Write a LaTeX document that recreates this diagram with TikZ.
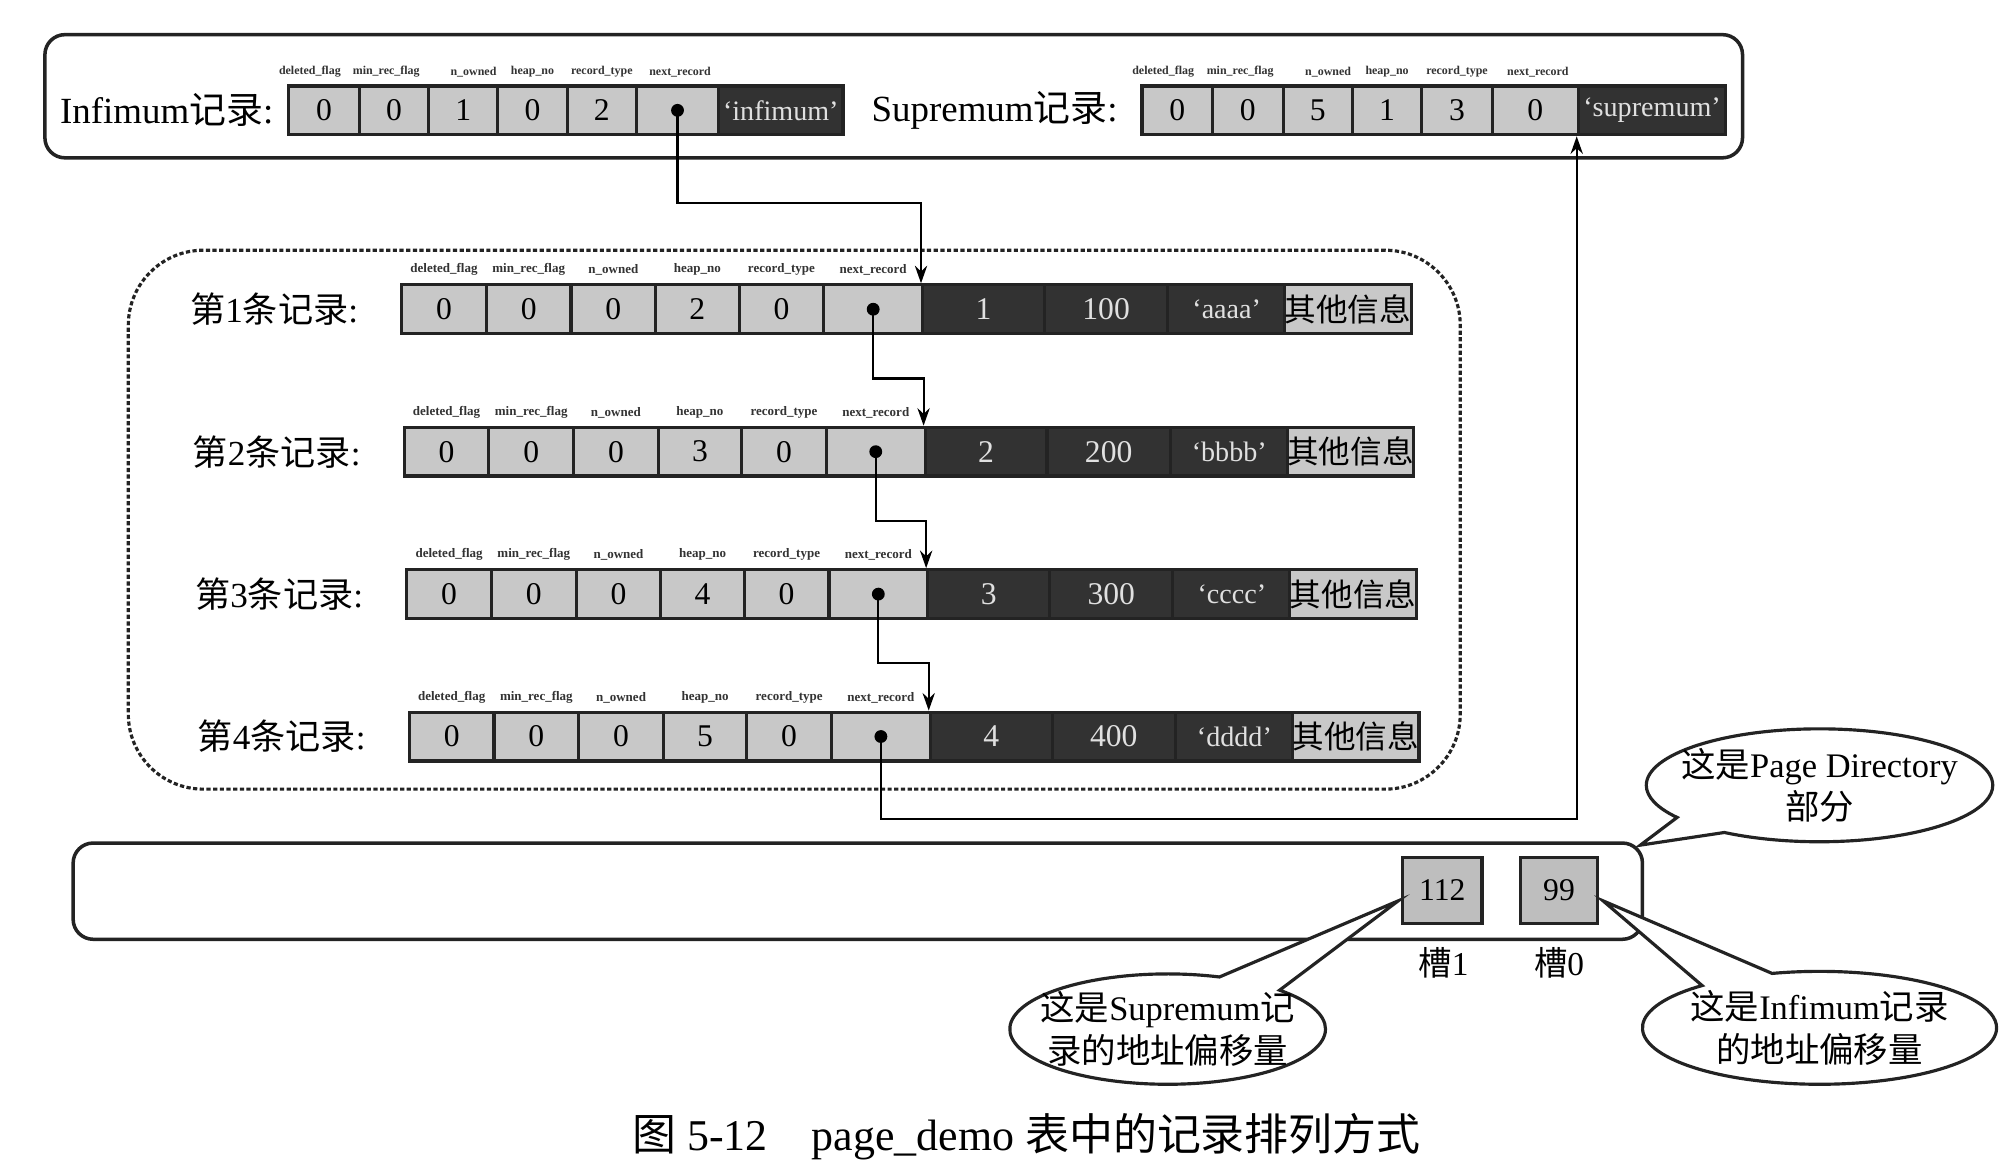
\documentclass[tikz,border=0pt]{standalone}
\usepackage{fontspec}
\setmainfont{Liberation Serif}
\newfontfamily\cjk{Noto Sans CJK SC}
\usetikzlibrary{shapes.callouts,arrows.meta,calc}
\definecolor{cellgray}{RGB}{200,200,200}
\definecolor{slotgray}{RGB}{190,190,190}
\definecolor{darkcell}{RGB}{50,50,50}
\definecolor{linecol}{RGB}{35,35,35}
\def\uu{0.012832cm}
\newcommand\cellat[6]{\node[#5, minimum width={((#3)-(#2))*\uu}] (#1) at ({((#2)+(#3))/2},#4) {#6};}
\begin{document}
\begin{tikzpicture}[x=\uu, y=-\uu, line width=0.7pt,
  cell/.style={draw=linecol, line width=0.9pt, fill=cellgray, minimum height=38*\uu, inner sep=0pt, font=\fontsize{9}{11}\selectfont},
  dcell/.style={cell, fill=darkcell, text=white!88!black},
  qcell/.style={dcell, font=\fontsize{8}{10}\selectfont},
  tinylbl/.style={font=\fontsize{3.7}{4}\selectfont\bfseries, inner sep=0pt, anchor=south, text=black!80},
  toplbl/.style={font=\fontsize{3.4}{4}\selectfont\bfseries, inner sep=0pt, anchor=south, text=black!80},
  lbl/.style={font=\fontsize{10}{12}\selectfont, inner sep=0pt, anchor=east},
  biglbl/.style={font=\fontsize{10.5}{12}\selectfont, inner sep=0pt, anchor=east},
  dotnode/.style={circle, fill=black, inner sep=0pt, minimum size=10*\uu},
  arr/.style={-{Stealth[length=5pt,width=3.5pt]}, line width=0.6pt},
  bubble/.style={ellipse callout, draw=linecol, line width=0.9pt, fill=white, inner sep=0pt},
  bubtext/.style={align=center, font=\fontsize{9.8}{12.2}\selectfont, inner sep=0pt}
]
\useasboundingbox (0,0) rectangle (1568,907);
\fill[white] (0,0) rectangle (1568,907);

% ---------- top box ----------
\node[draw=linecol, line width=1pt, rounded corners=0.2cm, minimum width=1323*\uu, minimum height=96*\uu] (topbox) at (696.5,75) {};
\node[biglbl] (inflbl) at (214,86) {Infimum{\cjk 记录}:};
\cellat{i1}{225}{280}{86}{cell}{0}
\cellat{i2}{280}{334}{86}{cell}{0}
\cellat{i3}{334}{388}{86}{cell}{1}
\cellat{i4}{388}{442}{86}{cell}{0}
\cellat{i5}{442}{496}{86}{cell}{2}
\cellat{i6}{496}{560}{86}{cell}{}
\cellat{i7}{560}{657}{86}{qcell}{`infimum'}
\node[dotnode] (idot) at (i6.center) {};
\node[toplbl] (it1) at ($(i1.north)+(-11,-5)$) {deleted\_flag};
\node[toplbl] (it2) at ($(i2.north)+(-6,-5)$) {min\_rec\_flag};
\node[toplbl] (it3) at ($(i3.north)+(8,-5)$) {n\_owned};
\node[toplbl] (it4) at ($(i4.north)+(0,-5)$) {heap\_no};
\node[toplbl] (it5) at ($(i5.north)+(0,-5)$) {record\_type};
\node[toplbl] (it6) at ($(i6.north)+(2,-5)$) {next\_record};

\node[biglbl] (suplbl) at (872,86) {Supremum{\cjk 记录}:};
\cellat{s1}{890}{945}{86}{cell}{0}
\cellat{s2}{945}{1000}{86}{cell}{0}
\cellat{s3}{1000}{1054}{86}{cell}{5}
\cellat{s4}{1054}{1108}{86}{cell}{1}
\cellat{s5}{1108}{1163}{86}{cell}{3}
\cellat{s6}{1163}{1230}{86}{cell}{0}
\cellat{s7}{1230}{1345}{86}{qcell}{`supremum'}
\node[toplbl] (st1) at ($(s1.north)+(-11,-5)$) {deleted\_flag};
\node[toplbl] (st2) at ($(s2.north)+(-6,-5)$) {min\_rec\_flag};
\node[toplbl] (st3) at ($(s3.north)+(8,-5)$) {n\_owned};
\node[toplbl] (st4) at ($(s4.north)+(0,-5)$) {heap\_no};
\node[toplbl] (st5) at ($(s5.north)+(0,-5)$) {record\_type};
\node[toplbl] (st6) at ($(s6.north)+(2,-5)$) {next\_record};

% ---------- records box ----------
\node[draw=linecol, line width=0.9pt, dash pattern=on 1.2pt off 0.7pt, rounded corners=0.75cm, minimum width=1038*\uu, minimum height=420*\uu] (recbox) at (619,405) {};

\foreach \r/\cy/\h/\v/\s in {1/241/2/100/aaaa, 2/352/3/200/bbbb, 3/463/4/300/cccc, 4/574/5/400/dddd}{
  \pgfmathsetmacro\ox{2*(\r-1)}
  \node[lbl] (r\r-lbl) at (280+\ox,\cy) {{\cjk 第}\r{\cjk 条记录}:};
  \cellat{r\r-1}{313+\ox}{379+\ox}{\cy}{cell}{0}
  \cellat{r\r-2}{379+\ox}{445+\ox}{\cy}{cell}{0}
  \cellat{r\r-3}{445+\ox}{511+\ox}{\cy}{cell}{0}
  \cellat{r\r-4}{511+\ox}{576+\ox}{\cy}{cell}{\h}
  \cellat{r\r-5}{576+\ox}{642+\ox}{\cy}{cell}{0}
  \cellat{r\r-6}{642+\ox}{719+\ox}{\cy}{cell}{}
  \cellat{r\r-d1}{719+\ox}{814+\ox}{\cy}{dcell}{\r}
  \cellat{r\r-d2}{814+\ox}{910+\ox}{\cy}{dcell}{\v}
  \cellat{r\r-d3}{910+\ox}{1002+\ox}{\cy}{qcell}{`\s'}
  \cellat{r\r-o}{1002+\ox}{1099+\ox}{\cy}{cell}{\fontsize{9}{11}\cjk 其他信息}
  \node[dotnode] (r\r-dot) at (r\r-6.center) {};
  \node[tinylbl] (r\r-t1) at ($(r\r-1.north)+(0,-5)$) {deleted\_flag};
  \node[tinylbl] (r\r-t2) at ($(r\r-2.north)+(0,-5)$) {min\_rec\_flag};
  \node[tinylbl] (r\r-t3) at ($(r\r-3.north)+(0,-5)$) {n\_owned};
  \node[tinylbl] (r\r-t4) at ($(r\r-4.north)+(0,-5)$) {heap\_no};
  \node[tinylbl] (r\r-t5) at ($(r\r-5.north)+(0,-5)$) {record\_type};
  \node[tinylbl] (r\r-t6) at ($(r\r-6.north)+(0,-5)$) {next\_record};
}

% ---------- pointers ----------
\draw[arr] (idot.center) -- ++(0,72) -| (r1-d1.north west);
\foreach \r in {1,2,3}{
  \pgfmathtruncatemacro\n{\r+1}
  \draw[arr] (r\r-dot.center) -- ++(0,54) -| (r\n-d1.north west);
}
\draw[arr] (r4-dot.center) -- ++(0,64) -| (s7.south west);

% ---------- page directory ----------
\node[draw=linecol, line width=1pt, rounded corners=0.2cm, minimum width=1223*\uu, minimum height=75*\uu] (dirbox) at (668.5,694.5) {};
\node[cell, fill=slotgray, minimum width=62*\uu, minimum height=52*\uu] (slot1) at (1124,694) {112};
\node[cell, fill=slotgray, minimum width=60*\uu, minimum height=52*\uu] (slot0) at (1215,694) {99};
\node[font=\fontsize{9.5}{11}\selectfont, inner sep=0pt] (slot1lbl) at (1125,750) {{\cjk 槽}1};
\node[font=\fontsize{9.5}{11}\selectfont, inner sep=0pt] (slot0lbl) at (1215,750) {{\cjk 槽}0};

\coordinate (pdtip) at ($(dirbox.north east)+(-3,3)$);
\coordinate (suptip) at ($(slot1.west)+(-2,8)$);
\coordinate (inftip) at ($(slot0.east)+(3,8)$);

\node[bubble, minimum width=270*\uu, minimum height=88*\uu, callout pointer arc=22, callout absolute pointer={(pdtip)}] (pdcall) at (1418,612) {};
\node[bubtext] (pdtext) at (pdcall.center) {{\cjk 这是}Page Directory\\{\cjk 部分}};

\node[bubble, minimum width=246*\uu, minimum height=86*\uu, callout pointer arc=26, callout absolute pointer={(suptip)}] (supcall) at (910,802) {};
\node[bubtext] (suptext) at (supcall.center) {{\cjk 这是}Supremum{\cjk 记}\\{\cjk 录的地址偏移量}};

\node[bubble, minimum width=276*\uu, minimum height=88*\uu, callout pointer arc=26, callout absolute pointer={(inftip)}] (infcall) at (1418,801) {};
\node[bubtext] (inftext) at (infcall.center) {{\cjk 这是}Infimum{\cjk 记录}\\{\cjk 的地址偏移量}};

% ---------- caption ----------
\node[font=\fontsize{12.5}{14}\selectfont, inner sep=0pt] (caption) at (800,886) {{\cjk 图} 5-12\quad page\_demo {\cjk 表中的记录排列方式}};
\end{tikzpicture}
\end{document}
